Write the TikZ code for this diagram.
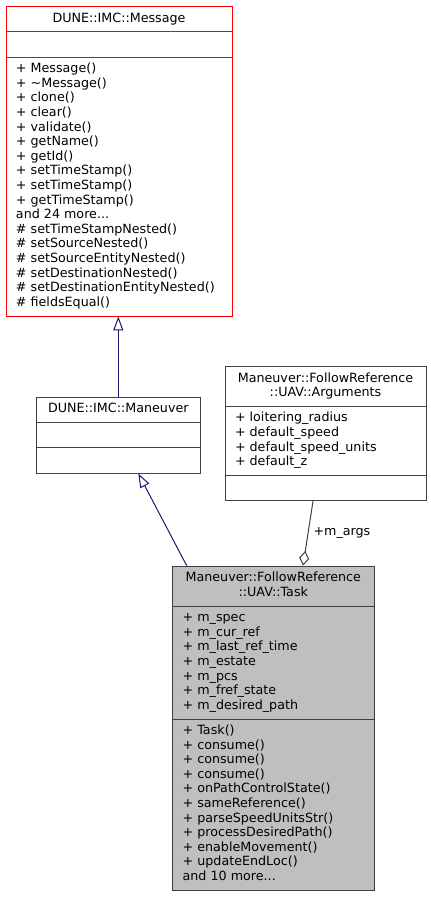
\documentclass[tikz,border=0pt]{standalone}
\usepackage{fontspec}
\setmainfont{DejaVu Sans}
\definecolor{edgeblue}{RGB}{25, 25, 112}
\definecolor{boxgray}{RGB}{191, 191, 191}
\definecolor{linegray}{RGB}{64, 64, 64}
\usetikzlibrary{shapes.multipart, arrows.meta, positioning}

\begin{document}
\begin{tikzpicture}[x=1pt, y=-1pt,
  cls/.style={draw=linegray, line width=0.9pt, rectangle split, rectangle split parts=3, rectangle split part align=left, inner xsep=10pt, inner ysep=4.9pt, align=left, font=\fontsize{12.7}{14.6}\selectfont, anchor=north},
  inh/.style={draw=edgeblue, line width=1pt, -{Triangle[open, length=14pt, width=10pt]}},
  agg/.style={draw=linegray, line width=1pt, -{Diamond[open, length=15pt, width=10pt]}},
  lbl/.style={font=\fontsize{12.7}{14.6}\selectfont, inner sep=0pt}
]
  \useasboundingbox (0,0) rectangle (431,897);

  \node[cls, draw=red] (msg) at (119,6) {\makebox[206pt][c]{\strut DUNE::IMC::Message}
    \nodepart{two}\strut
    \nodepart{three}\strut + Message()\\ + \textasciitilde{}Message()\\ + clone()\\ + clear()\\ + validate()\\ + getName()\\ + getId()\\ + setTimeStamp()\\ + setTimeStamp()\\ + getTimeStamp()\\ and 24 more...\\ \# setTimeStampNested()\\ \# setSourceNested()\\ \# setSourceEntityNested()\\ \# setDestinationNested()\\ \# setDestinationEntityNested()\\ \# fieldsEqual()\strut};
  \node[cls] (man) at (118.3,396.7) {\makebox[143.3pt][c]{\strut DUNE::IMC::Maneuver}
    \nodepart{two}\strut
    \nodepart{three}\strut};
  \node[cls] (args) at (325.5,366) {\makebox[181pt][c]{\strut Maneuver::FollowReference}\\ \makebox[181pt][c]{::UAV::Arguments\strut}
    \nodepart{two}\strut + loitering\_radius\\ + default\_speed\\ + default\_speed\_units\\ + default\_z\strut
    \nodepart{three}\strut};
  \node[cls, fill=boxgray] (task) at (273.3,565.7) {\makebox[181.3pt][c]{\strut Maneuver::FollowReference}\\ \makebox[181.3pt][c]{::UAV::Task\strut}
    \nodepart{two}\strut + m\_spec\\ + m\_cur\_ref\\ + m\_last\_ref\_time\\ + m\_estate\\ + m\_pcs\\ + m\_fref\_state\\ + m\_desired\_path\strut
    \nodepart{three}\strut + Task()\\ + consume()\\ + consume()\\ + consume()\\ + onPathControlState()\\ + sameReference()\\ + parseSpeedUnitsStr()\\ + processDesiredPath()\\ + enableMovement()\\ + updateEndLoc()\\ and 10 more...\strut};

  \draw[inh] (man.north) -- (man.north |- msg.south);
  \draw[inh] ([xshift=-86.6pt]task.north) -- ([xshift=20pt]man.south);
  \draw[agg] ([xshift=-12.5pt]args.south) -- node[lbl, right=5pt] (margs) {+m\_args} ([xshift=29.7pt]task.north);
\end{tikzpicture}
\end{document}
